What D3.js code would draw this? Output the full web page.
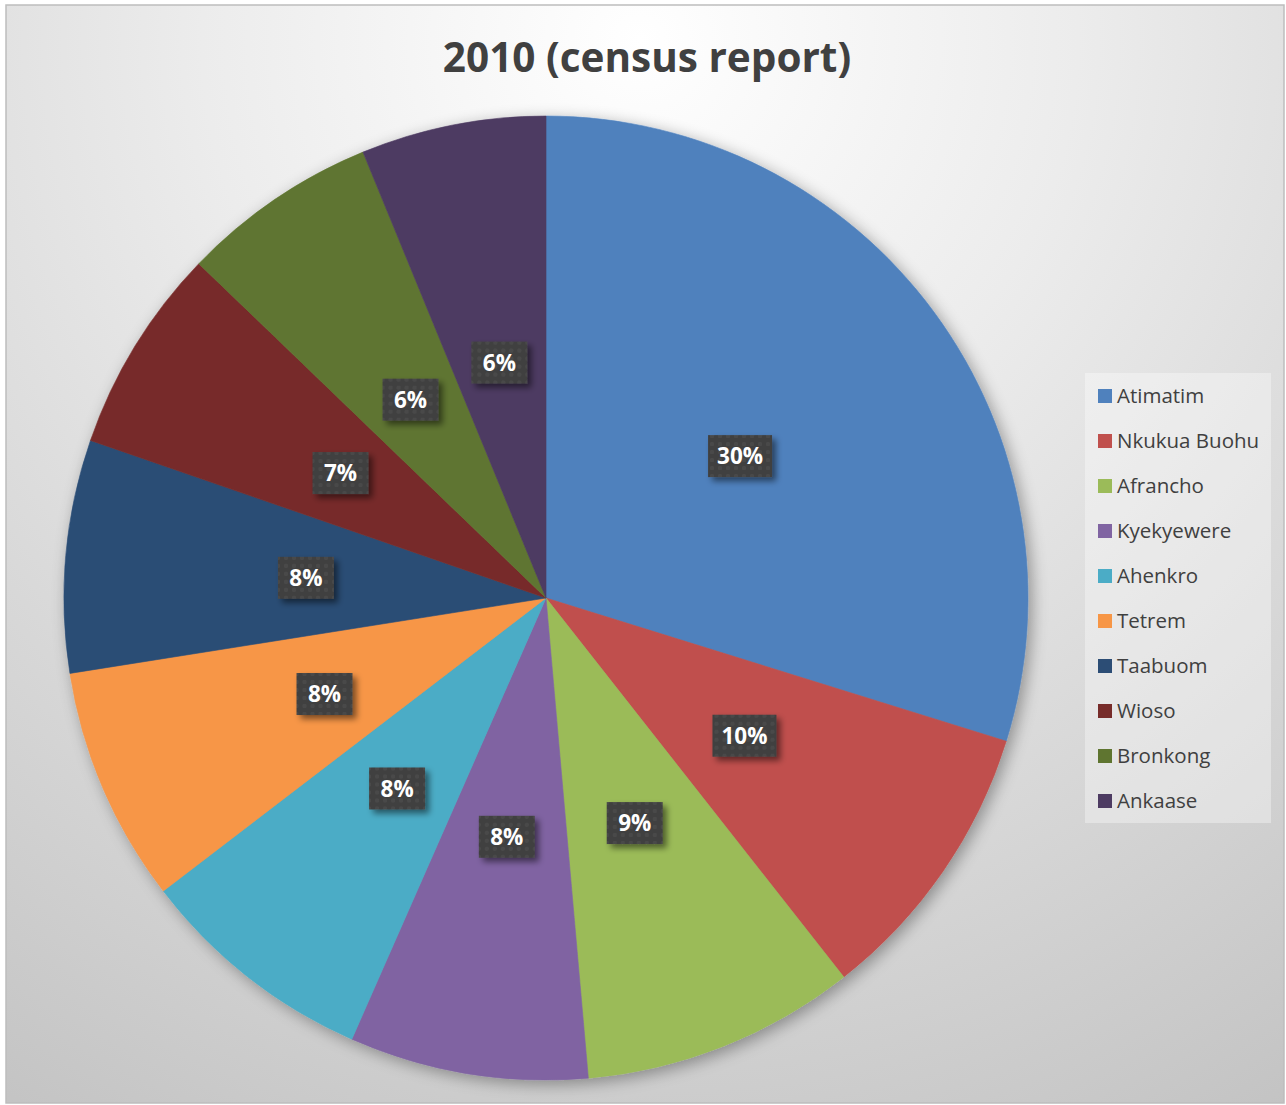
<!DOCTYPE html>
<html><head><meta charset="utf-8">
<script src="https://cdn.jsdelivr.net/npm/d3@7"></script>
<style>body{margin:0;background:#fff}svg{display:block}</style>
</head><body>
<script>
const categories = ["Atimatim","Nkukua Buohu","Afrancho","Kyekyewere","Ahenkro","Tetrem","Taabuom","Wioso","Bronkong","Ankaase"];
const values = [29.8, 9.6, 9.2, 8.0, 8.0, 7.9, 7.8, 6.9, 6.6, 6.2];
const labels = ["30%","10%","9%","8%","8%","8%","8%","7%","6%","6%"];
const colors = ["#4F81BD","#C0504D","#9BBB59","#8064A2","#4BACC6","#F79646","#2C4D75","#772C2A","#5F7530","#4D3B62"];
const title = "2010 (census report)";

const W = 1286, H = 1105;
const svg = d3.select("body").append("svg").attr("width", W).attr("height", H);
const defs = svg.append("defs");
const bg = defs.append("radialGradient").attr("id","bg").attr("gradientUnits","userSpaceOnUse")
  .attr("cx",640).attr("cy",40).attr("r",1250);
bg.append("stop").attr("offset","0").attr("stop-color","#ffffff");
bg.append("stop").attr("offset","0.35").attr("stop-color","#ececec");
bg.append("stop").attr("offset","1").attr("stop-color","#c3c3c3");

const sh = defs.append("filter").attr("id","pieShadow").attr("x","-10%").attr("y","-10%").attr("width","120%").attr("height","120%");
sh.append("feGaussianBlur").attr("in","SourceAlpha").attr("stdDeviation",8).attr("result","b");
sh.append("feOffset").attr("in","b").attr("dx",4).attr("dy",4).attr("result","o");
sh.append("feComponentTransfer").attr("in","o").attr("result","o2").append("feFuncA").attr("type","linear").attr("slope",0.35);
const m1 = sh.append("feMerge"); m1.append("feMergeNode").attr("in","o2"); m1.append("feMergeNode").attr("in","SourceGraphic");

const lsh = defs.append("filter").attr("id","lblShadow").attr("x","-30%").attr("y","-30%").attr("width","160%").attr("height","160%");
lsh.append("feGaussianBlur").attr("in","SourceAlpha").attr("stdDeviation",3).attr("result","b");
lsh.append("feOffset").attr("in","b").attr("dx",4).attr("dy",4).attr("result","o");
lsh.append("feComponentTransfer").attr("in","o").attr("result","o2").append("feFuncA").attr("type","linear").attr("slope",0.5);
const m2 = lsh.append("feMerge"); m2.append("feMergeNode").attr("in","o2"); m2.append("feMergeNode").attr("in","SourceGraphic");

const pat = defs.append("pattern").attr("id","dots").attr("patternUnits","userSpaceOnUse").attr("width",8).attr("height",8);
pat.append("rect").attr("width",8).attr("height",8).attr("fill","#3f3f3f");
pat.append("circle").attr("cx",4).attr("cy",4).attr("r",2.2).attr("fill","#4a4a4a");

svg.append("rect").attr("x",6).attr("y",5).attr("width",1278).attr("height",1098)
  .attr("fill","url(#bg)").attr("stroke","#bdbdbd").attr("stroke-width",1.5);

svg.append("text").attr("x",647).attr("y",72).attr("text-anchor","middle")
  .attr("font-family","Open Sans, sans-serif").attr("font-weight","bold").attr("font-size",40.5)
  .attr("fill","#404040").text(title);

const cx = 546, cy = 598, R = 482;
const pie = d3.pie().sort(null).value(d => d)(values);
const arc = d3.arc().innerRadius(0).outerRadius(R);
const labelArc = d3.arc().innerRadius(R*0.5).outerRadius(R*0.5);
const g = svg.append("g").attr("transform",`translate(${cx},${cy})`);
const pg = g.append("g").attr("filter","url(#pieShadow)");
pg.selectAll("path").data(pie).join("path")
  .attr("d", arc).attr("fill", (d,i) => colors[i])
  .attr("stroke", (d,i)=>colors[i]).attr("stroke-width",0.6);

const lg = g.append("g");
pie.forEach((d,i) => {
  const [x,y] = labelArc.centroid(d);
  const w = labels[i].length === 3 ? 64 : 56, h = 42;
  const gg = lg.append("g").attr("transform",`translate(${x},${y+1})`);
  gg.append("rect").attr("x",-w/2).attr("y",-h/2).attr("width",w).attr("height",h)
    .attr("fill","url(#dots)").attr("filter","url(#lblShadow)");
  gg.append("text").attr("text-anchor","middle").attr("dy","0.36em")
    .attr("font-family","Open Sans, sans-serif").attr("font-weight","bold").attr("font-size",22.5)
    .attr("fill","#ffffff").text(labels[i]);
});

const leg = svg.append("g");
leg.append("rect").attr("x",1085).attr("y",373).attr("width",186).attr("height",450)
  .attr("fill","#ffffff").attr("fill-opacity",0.35);
categories.forEach((c,i) => {
  const y = 396 + i*45;
  leg.append("rect").attr("x",1098).attr("y",y-7).attr("width",14).attr("height",14).attr("fill",colors[i]);
  leg.append("text").attr("x",1117).attr("y",y).attr("dy","0.35em")
    .attr("font-family","Open Sans, sans-serif").attr("font-size",20.5).attr("fill","#404040").text(c);
});
</script>
</body></html>
